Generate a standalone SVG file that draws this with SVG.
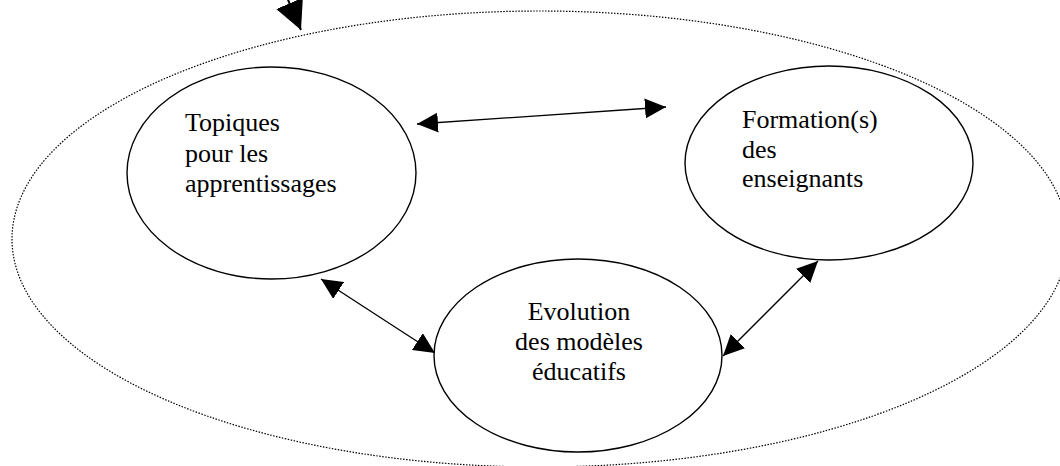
<svg xmlns="http://www.w3.org/2000/svg" width="1060" height="466" viewBox="0 0 1060 466">
<style>
.node{fill:#fff;stroke:#000;stroke-width:1.4}
.lbl{font-family:"Liberation Serif","Times New Roman",serif;font-size:26px;fill:#000}
.con{stroke:#000;stroke-width:1.3;fill:none}
</style>
<defs>
<marker id="ah" markerUnits="userSpaceOnUse" markerWidth="22" markerHeight="20" refX="21" refY="10" orient="auto-start-reverse">
<path d="M0,0 L21,10 L0,20 z" fill="#000"/>
</marker>
<marker id="ahBig" markerUnits="userSpaceOnUse" markerWidth="30" markerHeight="30" refX="29" refY="14.5" orient="auto">
<path d="M0,0 L29,14.5 L0,29 z" fill="#000"/>
</marker>
</defs>
<g id="context">
<ellipse cx="540" cy="239" rx="528" ry="228" fill="none" stroke="#000" stroke-width="1.2" stroke-dasharray="1.5 1.5"/>
</g>
<g id="connectors">
<line class="con" style="stroke-width:2" x1="270" y1="-42" x2="301" y2="30" marker-end="url(#ahBig)"/>
<line class="con" x1="417" y1="124" x2="666" y2="107" marker-start="url(#ah)" marker-end="url(#ah)"/>
<line class="con" x1="321" y1="279" x2="435" y2="353" marker-start="url(#ah)" marker-end="url(#ah)"/>
<line class="con" x1="818" y1="261" x2="723" y2="356" marker-start="url(#ah)" marker-end="url(#ah)"/>
</g>
<g id="topiques">
<ellipse class="node" cx="271.5" cy="173" rx="144.5" ry="106"/>
<text class="lbl" x="185" y="131">Topiques</text>
<text class="lbl" x="185" y="162">pour les</text>
<text class="lbl" x="185" y="192">apprentissages</text>
</g>
<g id="formation">
<ellipse class="node" cx="829" cy="163" rx="144" ry="97"/>
<text class="lbl" x="742" y="128">Formation(s)</text>
<text class="lbl" x="742" y="158">des</text>
<text class="lbl" x="742" y="187">enseignants</text>
</g>
<g id="evolution">
<ellipse class="node" cx="578" cy="355.5" rx="144" ry="96.5"/>
<text class="lbl" x="579" y="320" text-anchor="middle">Evolution</text>
<text class="lbl" x="579" y="350" text-anchor="middle">des modèles</text>
<text class="lbl" x="579" y="380" text-anchor="middle">éducatifs</text>
</g>
</svg>
